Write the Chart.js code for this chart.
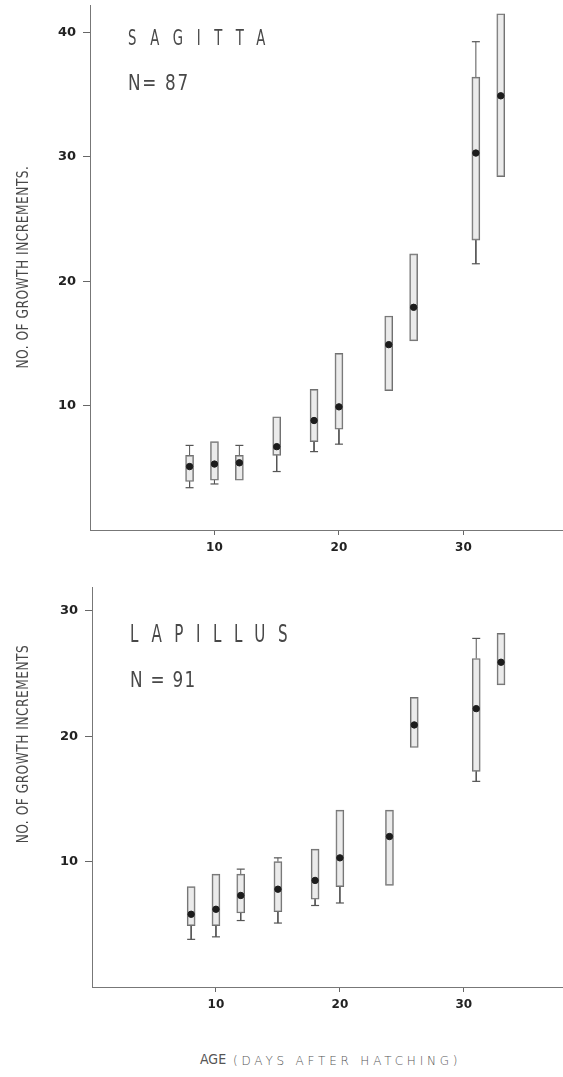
<!DOCTYPE html>
<html>
<head>
<meta charset="utf-8">
<script src="https://cdn.jsdelivr.net/npm/chart.js@4/dist/chart.umd.min.js"></script>
<style>
  html, body { margin: 0; padding: 0; background: #fff; }
  body { width: 563px; height: 1077px; position: relative; overflow: hidden; }
  canvas { position: absolute; left: 0; }
  .t { position: absolute; color: #484848; white-space: nowrap; font-family: "DejaVu Sans Condensed", "Liberation Sans Narrow", "DejaVu Sans", sans-serif; font-weight: 300; line-height: 1; transform-origin: 0 0; }
  .ytitle { transform-origin: 50% 50%; transform: translate(-50%, -50%) rotate(-90deg) scaleX(0.9); font-size: 15px; letter-spacing: 0.6px; }
</style>
</head>
<body>
<canvas id="top" width="563" height="560" style="top:0"></canvas>
<canvas id="bot" width="563" height="437" style="top:580px"></canvas>

<div class="t" style="left:128px; top:28px; font-size:21px; letter-spacing:19.5px; transform:scaleX(0.7);">SAGITTA</div>
<div class="t" style="left:128px; top:72px; font-size:22px; letter-spacing:2px; transform:scaleX(0.85);">N= 87</div>
<div class="t" style="left:130px; top:622px; font-size:24px; letter-spacing:18px; transform:scaleX(0.7);">LAPILLUS</div>
<div class="t" style="left:130px; top:669px; font-size:22px; letter-spacing:1.5px; transform:scaleX(0.85);">N = 91</div>
<div class="t ytitle" style="left:23px; top:267px;">NO. OF GROWTH INCREMENTS.</div>
<div class="t ytitle" style="left:23px; top:744px;">NO. OF GROWTH INCREMENTS</div>
<div class="t" style="left:200px; top:1052px; font-size:14px; color:#555;">AGE</div>
<div class="t" style="left:233px; top:1055px; font-family:'DejaVu Sans', sans-serif; font-size:12px; letter-spacing:3.8px; color:#555;">(DAYS AFTER HATCHING)</div>

<script>
// ---- Sagitta (top panel) ----
const sagAge  = [8, 10, 12, 15, 18, 20, 24, 26, 31, 33];
const sagMin  = [3.4, 3.7, null, 4.7, 6.3, 6.9, null, null, 21.4, null];
const sagQ1   = [3.9, 4.0, 4.0, 6.0, 7.1, 8.1, 11.2, 15.2, 23.3, 28.4];
const sagMean = [5.1, 5.3, 5.4, 6.7, 8.8, 9.9, 14.9, 17.9, 30.3, 34.9];
const sagQ3   = [6.0, 7.1, 6.0, 9.1, 11.3, 14.2, 17.2, 22.2, 36.4, 41.5];
const sagMax  = [6.8, null, 6.8, null, null, null, null, null, 39.25, null];

// ---- Lapillus (bottom panel) ----
const lapAge  = [8, 10, 12, 15, 18, 20, 24, 26, 31, 33];
const lapMin  = [3.8, 4.0, 5.3, 5.1, 6.5, 6.7, null, null, 16.4, null];
const lapQ1   = [4.9, 4.9, 5.9, 6.0, 7.0, 8.0, 8.1, 19.1, 17.2, 24.1];
const lapMean = [5.8, 6.2, 7.3, 7.8, 8.5, 10.3, 12.0, 20.9, 22.2, 25.9];
const lapQ3   = [8.0, 9.0, 9.0, 10.0, 11.0, 14.1, 14.1, 23.1, 26.2, 28.2];
const lapMax  = [null, null, 9.4, 10.3, null, null, null, null, 27.8, null];

const xTicks = [10, 20, 30];
const sagYTicks = [10, 20, 30, 40];
const lapYTicks = [10, 20, 30];

function whiskers(age, lo, q1, q3, hi) {
  const pts = [];
  age.forEach((a, i) => {
    if (hi[i] !== null) {
      pts.push({x: a, y: q3[i]}, {x: a, y: hi[i], cap: true}, {x: a, y: null});
    }
    if (lo[i] !== null) {
      pts.push({x: a, y: q1[i]}, {x: a, y: lo[i], cap: true}, {x: a, y: null});
    }
  });
  return pts;
}

function makeChart(id, age, lo, q1, mean, q3, hi, yMax, yTicks, yW, padTop) {
  const ctx = document.getElementById(id);
  return new Chart(ctx, {
    type: 'bar',
    data: {
      datasets: [
        {
          type: 'line',
          data: whiskers(age, lo, q1, q3, hi),
          borderColor: '#555',
          borderWidth: 1,
          spanGaps: false,
          pointStyle: 'line',
          pointRadius: c => (c.raw && c.raw.cap) ? 4 : 0,
          pointBorderColor: '#555',
          pointBorderWidth: 1.2,
          order: 3
        },
        {
          type: 'bar',
          data: age.map((a, i) => ({x: a, y: [q1[i], q3[i]]})),
          backgroundColor: 'rgba(205,205,205,0.4)',
          borderColor: '#707070',
          borderWidth: 1,
          borderSkipped: false,
          barThickness: 8,
          order: 2
        },
        {
          type: 'line',
          data: age.map((a, i) => ({x: a, y: mean[i]})),
          showLine: false,
          pointRadius: 3.2,
          pointBackgroundColor: '#1c1c1c',
          pointBorderColor: '#1c1c1c',
          order: 1
        }
      ]
    },
    options: {
      responsive: false,
      animation: false,
      layout: { autoPadding: false, padding: { top: padTop, right: 0, left: 0, bottom: 0 } },
      plugins: { legend: { display: false }, tooltip: { enabled: false } },
      scales: {
        x: {
          type: 'linear',
          min: 0, max: 38,
          offset: false,
          afterFit: s => { s.height = 30; s.paddingLeft = 0; s.paddingRight = 0; },
          afterBuildTicks: s => { s.ticks = xTicks.map(v => ({value: v})); },
          border: { display: true, color: '#777', width: 1 },
          grid: { display: true, offset: false, drawOnChartArea: false, drawTicks: true, tickLength: 5, color: '#666' },
          ticks: { font: { family: 'DejaVu Sans', weight: 'bold', size: 12 }, color: '#222', padding: 6, maxRotation: 0 }
        },
        y: {
          type: 'linear',
          min: 0, max: yMax,
          afterFit: s => { s.width = yW; s.paddingTop = 0; s.paddingBottom = 0; },
          afterBuildTicks: s => { s.ticks = yTicks.map(v => ({value: v})); },
          border: { display: true, color: '#777', width: 1 },
          grid: { display: true, drawOnChartArea: false, drawTicks: true, tickLength: 7, color: '#666' },
          ticks: { font: { family: 'DejaVu Sans', weight: 'bold', size: 13 }, color: '#222', padding: 7 }
        }
      }
    }
  });
}

makeChart('top', sagAge, sagMin, sagQ1, sagMean, sagQ3, sagMax, 42.2, sagYTicks, 90, 5);
makeChart('bot', lapAge, lapMin, lapQ1, lapMean, lapQ3, lapMax, 31.9, lapYTicks, 92, 7);
</script>
</body>
</html>
